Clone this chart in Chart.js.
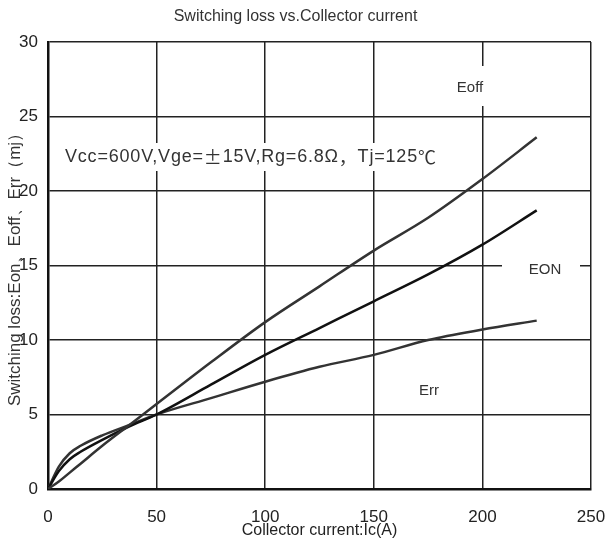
<!DOCTYPE html>
<html>
<head>
<meta charset="utf-8">
<script src="https://cdn.jsdelivr.net/npm/chart.js@4"></script>
<style>
  html, body { margin: 0; padding: 0; background: #fff; }
</style>
</head>
<body>
<canvas id="myChart" width="607" height="542"></canvas>
<script>
// collector current, A
var current = [0, 5, 10, 15, 25, 37.5, 50, 75, 100, 125, 150, 175, 200, 225];
// switching losses, mJ
var eoffData = [0, 0.5, 1.1, 1.7, 2.9, 4.3, 5.7, 8.5, 11.2, 13.6, 16.0, 18.2, 20.8, 23.6];
var eonData = [0, 1.2, 2.0, 2.5, 3.3, 4.2, 5.0, 7.0, 9.0, 10.8, 12.6, 14.4, 16.4, 18.7];
var errData = [0, 1.5, 2.4, 2.9, 3.6, 4.3, 5.0, 6.1, 7.2, 8.2, 9.0, 10.0, 10.7, 11.3];

var LATIN = '"Liberation Sans", Arial, sans-serif';
var CJK = '"Noto Sans CJK SC", sans-serif';

// test condition, split so the full-width signs use the CJK font
var conditionParts = [
  ['Vcc=600V,Vge=', LATIN], ['\u00b1', CJK], ['15V,Rg=6.8\u03a9', LATIN],
  ['\uff0c', CJK], ['Tj=125', LATIN], ['\u2103', CJK]
];

function pts(ys) {
  return current.map(function (x, i) { return {x: x, y: ys[i]}; });
}

// curve labels with a white box behind them, drawn over the grid
var labels = [
  {text: 'Eoff', x: 470, y: 88, box: [452, 66, 36, 40]},
  {text: 'EON', x: 545, y: 270, box: [502, 258, 78, 24]},
  {text: 'Err', x: 429, y: 391, box: null}
];

var textPlugin = {
  id: 'labels',
  beforeDatasetsDraw: function (chart) {
    var c = chart.ctx;
    c.save();
    c.textBaseline = 'middle';
    labels.forEach(function (l) {
      if (l.box) {
        c.fillStyle = '#fff';
        c.fillRect(l.box[0], l.box[1], l.box[2], l.box[3]);
      }
      c.fillStyle = '#333';
      c.font = '15px ' + LATIN;
      c.textAlign = 'center';
      c.fillText(l.text, l.x, l.y);
    });
    // condition line
    c.fillStyle = '#fff';
    c.fillRect(60, 143, 385, 28);
    c.fillStyle = '#333';
    c.textAlign = 'left';
    c.letterSpacing = '0.8px';
    var x = 65;
    conditionParts.forEach(function (p) {
      c.font = '18px ' + p[1];
      c.fillText(p[0], x, 157);
      x += c.measureText(p[0]).width;
    });
    c.restore();
  }
};

var ctx = document.getElementById('myChart').getContext('2d');
var graph = new Chart(ctx, {
  type: 'line',
  data: {
    datasets: [{
      label: 'Eoff',
      data: pts(eoffData),
      borderColor: '#333',
      borderWidth: 2.5,
      pointRadius: 0,
      cubicInterpolationMode: 'monotone'
    }, {
      label: 'EON',
      data: pts(eonData),
      borderColor: '#111',
      borderWidth: 2.5,
      pointRadius: 0,
      cubicInterpolationMode: 'monotone'
    }, {
      label: 'Err',
      data: pts(errData),
      borderColor: '#333',
      borderWidth: 2.5,
      pointRadius: 0,
      cubicInterpolationMode: 'monotone'
    }]
  },
  options: {
    responsive: false,
    animation: false,
    layout: {padding: {left: 0, right: 16, top: 0, bottom: 0}},
    plugins: {
      legend: {display: false},
      tooltip: {enabled: false},
      title: {
        display: true,
        text: 'Switching loss vs.Collector current',
        color: '#333',
        font: {family: LATIN, size: 16, weight: 'normal'},
        padding: {top: 7, bottom: 15.8}
      }
    },
    scales: {
      x: {
        type: 'linear',
        min: 0,
        max: 250,
        ticks: {
          stepSize: 50,
          padding: 18,
          color: '#222',
          font: {family: LATIN, size: 17}
        },
        grid: {color: '#222', lineWidth: 1.5, drawTicks: false},
        border: {color: '#111', width: 2.5},
        title: {
          display: true,
          text: 'Collector current:Ic(A)',
          color: '#222',
          font: {family: LATIN, size: 16},
          padding: {top: 0, bottom: 2}
        },
        afterFit: function (scale) {
          scale.height = 53;
          scale.paddingLeft = 0;
          scale.paddingRight = 0;
        }
      },
      y: {
        min: 0,
        max: 30,
        ticks: {
          stepSize: 5,
          padding: 10,
          color: '#222',
          font: {family: LATIN, size: 17}
        },
        grid: {color: '#222', lineWidth: 1.5, drawTicks: false},
        border: {color: '#111', width: 2.5},
        title: {
          display: true,
          text: 'Switching loss:Eon\u3001Eoff\u3001Err\uff08mj\uff09',
          color: '#333',
          font: {family: LATIN, size: 17},
          padding: {top: 5, bottom: 0}
        },
        afterFit: function (scale) {
          scale.width = 48;
          scale.paddingTop = 0;
          scale.paddingBottom = 0;
        }
      }
    }
  },
  plugins: [textPlugin]
});
</script>
</body>
</html>
